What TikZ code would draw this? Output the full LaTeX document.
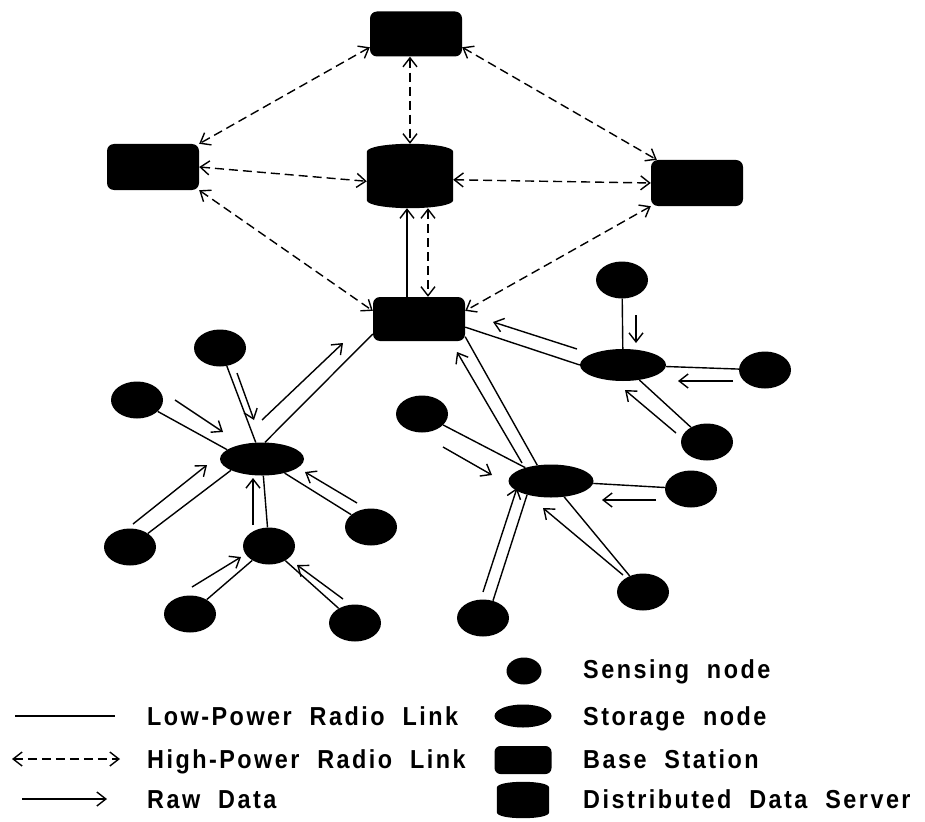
\documentclass[tikz,border=0pt]{standalone}
\usepackage{fontspec}
\setmainfont[LetterSpace=9.5,WordSpace=2,FakeStretch=0.9]{Liberation Sans}
\usetikzlibrary{arrows.meta,calc,shapes.geometric}
\begin{document}
\begin{tikzpicture}[x=1pt,y=-1pt,
  sens/.style={ellipse, fill=black, minimum width=52, minimum height=37, inner sep=0},
  stor/.style={ellipse, fill=black, minimum width=85, minimum height=33, inner sep=0},
  bs/.style={rectangle, rounded corners=7, fill=black, minimum width=92, minimum height=45, inner sep=0},
  ghost/.style={rectangle, inner sep=0},
  link/.style={line width=1.4pt},
  raw/.style={line width=1.4pt, -{Straight Barb[length=9pt,width=14pt]}},
  hp/.style={line width=1.4pt, dash pattern=on 9pt off 5pt, {Straight Barb[length=9pt,width=14pt]}-{Straight Barb[length=9pt,width=14pt]}},
  lbl/.style={anchor=base west, inner sep=0, font=\fontsize{26}{30}\selectfont\bfseries}]
\useasboundingbox (0,0) rectangle (925,821);
\fill[white] (0,0) rectangle (925,821);

% base stations
\node[bs] (bsTop) at (416,34) {};
\node[bs, minimum height=46] (bsLeft) at (153,167) {};
\node[bs, minimum height=46] (bsRight) at (697,183) {};
\node[bs, minimum height=44] (bsBot) at (419,319) {};

% distributed data server
\node[ghost, minimum width=86, minimum height=64] (dds) at (410,176) {};
\fill ($(dds.north west)+(0,8)$)
   .. controls ($(dds.north west)+(0,3)$) and ($(dds.north)+(-22,0)$) .. (dds.north)
   .. controls ($(dds.north)+(22,0)$) and ($(dds.north east)+(0,3)$) .. ($(dds.north east)+(0,8)$)
   -- ($(dds.south east)+(0,-8)$)
   .. controls ($(dds.south east)+(0,-3)$) and ($(dds.south)+(22,0)$) .. (dds.south)
   .. controls ($(dds.south)+(-22,0)$) and ($(dds.south west)+(0,-3)$) .. ($(dds.south west)+(0,-8)$)
   -- cycle;

% storage nodes
\node[stor, minimum width=84] (s1) at (262,459) {};
\node[stor, minimum width=86, minimum height=32] (s2) at (623,365) {};
\node[stor] (s3) at (551,481) {};

% sensing nodes
\node[sens] (a) at (220,348) {};
\node[sens] (b) at (137,400) {};
\node[sens] (c) at (130,547) {};
\node[sens] (d) at (269,546) {};
\node[sens] (e) at (190,614) {};
\node[sens] (f) at (355,623) {};
\node[sens] (g) at (371,527) {};
\node[sens] (h) at (622,280) {};
\node[sens] (i) at (765,370) {};
\node[sens] (j) at (707,442) {};
\node[sens] (k) at (422,414) {};
\node[sens] (l) at (691,489) {};
\node[sens] (m) at (643,592) {};
\node[sens] (n) at (483,618) {};

% high-power links
\draw[hp] (bsTop.196) -- (bsLeft.north east);
\draw[hp] (bsTop.-16) -- (bsRight.150);
\draw[hp] (dds.north |- bsTop.south) -- (dds.north);
\draw[hp] (bsLeft.east) -- (dds.187);
\draw[hp] (dds.-5) -- (bsRight.west);
\draw[hp] (bsLeft.south east) -- (bsBot.170);
\draw[hp] (bsRight.south west) -- (bsBot.10);
\draw[hp] ($(dds.south)+(18,0)$) -- ($(bsBot.north)+(9,0)$);
\draw[raw] ($(bsBot.north)+(-12,0)$) -- ($(dds.south)+(-3,0)$);

% low-power links
\draw[link] (a) -- (s1);
\draw[link] (b) -- (s1.165);
\draw[link] (c) -- (s1.200);
\draw[link] (d) -- (s1);
\draw[link] (g) -- (s1);
\draw[link] (e) -- (d);
\draw[link] (f) -- (d);
\draw[link] (s1.80) -- (bsBot.198);
\draw[link] (h) -- (s2);
\draw[link] (i) -- (s2);
\draw[link] (j) -- (s2);
\draw[link] (s2.west) -- (bsBot.-10);
\draw[link] (k) -- (s3);
\draw[link] (l) -- (s3);
\draw[link] (m) -- (s3);
\draw[link] (n.60) -- (s3.210);
\draw[link] (s3.131) -- (bsBot.-21);

% raw data
\draw[raw] (237,373) -- (254,420);
\draw[raw] (175,400) -- (223,432);
\draw[raw] (133,524) -- (207,465);
\draw[raw] (253,525) -- (253,478);
\draw[raw] (357,503) -- (305,472);
\draw[raw] (192,587) -- (241,557);
\draw[raw] (343,599) -- (297,565);
\draw[raw] (262,420) -- (343,343);
\draw[raw] (636,315) -- (636,343);
\draw[raw] (733,381) -- (678,381);
\draw[raw] (676,433) -- (625,390);
\draw[raw] (577,349) -- (493,322);
\draw[raw] (443,447) -- (492,475);
\draw[raw] (656,500) -- (602,500);
\draw[raw] (623,575) -- (543,508);
\draw[raw] (483,592) -- (517,488);
\draw[raw] (522,463) -- (457,352);

% legend
\coordinate (lpA) at (15,716); \coordinate (lpB) at (115,716);
\coordinate (hpA) at (12,759); \coordinate (hpB) at (120,759);
\coordinate (rdA) at (22,799); \coordinate (rdB) at (107,799);
\draw[link] (lpA) -- (lpB);
\draw[hp] (hpA) -- (hpB);
\draw[raw] (rdA) -- (rdB);
\node[lbl] (tLP) at (147,725.5) {Low-Power Radio Link};
\node[lbl] (tHP) at (147,768.5) {High-Power Radio Link};
\node[lbl] (tRD) at (147,808.5) {Raw Data};

\node[sens, minimum width=35, minimum height=27] (iS) at (524,671) {};
\node[stor, minimum width=57, minimum height=23] (iSt) at (523,716) {};
\node[bs, minimum width=57, minimum height=28, rounded corners=6] (iB) at (523,760) {};
\node[ghost, minimum width=52, minimum height=36] (iD) at (523,800) {};
\fill ($(iD.north west)+(0,6)$)
   .. controls ($(iD.north west)+(0,2)$) and ($(iD.north)+(-14,0)$) .. (iD.north)
   .. controls ($(iD.north)+(14,0)$) and ($(iD.north east)+(0,2)$) .. ($(iD.north east)+(0,6)$)
   -- ($(iD.south east)+(0,-6)$)
   .. controls ($(iD.south east)+(0,-2)$) and ($(iD.south)+(14,0)$) .. (iD.south)
   .. controls ($(iD.south)+(-14,0)$) and ($(iD.south west)+(0,-2)$) .. ($(iD.south west)+(0,-6)$)
   -- cycle;
\node[lbl] (tS) at (583,678.5) {Sensing node};
\node[lbl] (tSt) at (583,725.5) {Storage node};
\node[lbl] (tB) at (583,768.5) {Base Station};
\node[lbl] (tD) at (583,808.5) {Distributed Data Server};
\end{tikzpicture}
\end{document}
